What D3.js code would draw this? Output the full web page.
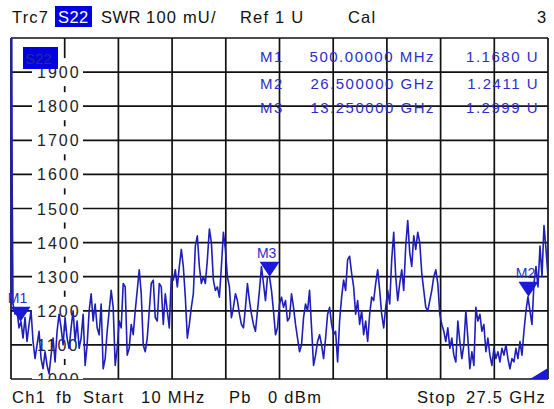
<!DOCTYPE html>
<html><head><meta charset="utf-8">
<script src="https://cdn.jsdelivr.net/npm/d3@7"></script>
<style>
body{margin:0;background:#fff;}
svg{display:block;font-family:"Liberation Sans",Arial,sans-serif;}
</style>
</head><body>
<svg id="c" width="554" height="409"></svg>
<script>
// ---- data ----
const startGHz = 0.01;
const stopGHz = 27.5;
const yTickValues = [1000, 1100, 1200, 1300, 1400, 1500, 1600, 1700, 1800, 1900];
const yTickLabels = ["1000", "1100", "1200", "1300", "1400", "1500", "1600", "1700", "1800", "1900"];
// trace SWR (mU), sweep points evenly spaced from start to stop
const swr = [
2050,1220,1190,1200,1150,1168,1120,1180,1110,1160,
1200,1110,1060,1100,1140,1060,1030,1080,1040,1015,
1070,1120,1050,1140,1190,1150,1100,1180,1120,1090,
1150,1200,1110,1170,1090,1120,1190,1040,1100,1200,
1250,1170,1220,1150,1130,1220,1030,1060,1140,1200,
1260,1210,1040,1090,1170,1150,1280,1270,1070,1090,
1160,1130,1200,1260,1320,1250,1100,1080,1120,1200,
1280,1290,1180,1170,1280,1270,1160,1250,1200,1150,
1300,1290,1320,1270,1330,1380,1330,1240,1120,1160,
1210,1250,1390,1420,1330,1280,1300,1280,1350,1440,
1400,1290,1260,1270,1240,1330,1430,1380,1300,1270,
1180,1210,1250,1230,1190,1160,1150,1210,1280,1230,
1190,1160,1140,1200,1260,1330,1280,1230,1300,1300,
1260,1200,1130,1150,1220,1240,1210,1230,1170,1180,
1250,1210,1160,1120,1080,1100,1180,1220,1200,1260,
1150,1040,1070,1110,1130,1100,1060,1120,1190,1210,
1160,1130,1140,1050,1170,1240,1290,1260,1350,1360,
1310,1270,1190,1230,1160,1200,1130,1170,1110,1190,
1240,1230,1280,1320,1260,1190,1150,1210,1260,1220,
1350,1430,1300,1230,1280,1320,1260,1390,1465,1370,
1330,1420,1380,1430,1400,1310,1260,1210,1200,1230,
1260,1300,1320,1280,1190,1160,1140,1110,1150,1090,
1120,1070,1050,1170,1110,1060,1100,1200,1120,1030,
1080,1040,1210,1170,1190,1140,1160,1080,1120,1070,
1040,1090,1060,1080,1050,1090,1070,1100,1060,1030,
1060,1050,1090,1060,1110,1070,1140,1200,1241,1200,
1160,1280,1330,1270,1390,1300,1450,1380,1300
];
const markerNames = ["M1", "M2", "M3"];
const markerFreqGHz = [0.5, 26.5, 13.25];
const markerSWR = [1168.0, 1241.1, 1299.9];
const markerFreqText = ["500.00000 MHz", "26.500000 GHz", "13.250000 GHz"];
const markerValueText = ["1.1680 U", "1.2411 U", "1.2999 U"];
const headerTexts = ["Trc7", "S22", "SWR", "100 mU/", "Ref 1 U", "Cal", "3"];
const footerTexts = ["Ch1", "fb", "Start", "10 MHz", "Pb", "0 dBm", "Stop", "27.5 GHz"];

// ---- layout ----
const L = 11, R = 548, T = 38, B = 379;
const svg = d3.select("#c");
const x = d3.scaleLinear().domain([startGHz, stopGHz]).range([L, R]);
const y = d3.scaleLinear().domain([1000, 2000]).range([B, T]);
const blue = "#1e1eb8";
const txtBlue = "#2d2dc8";

svg.append("rect").attr("width", 554).attr("height", 409).attr("fill", "#fff");

// header
const headerX = [12, 58, 101, 146, 240, 348, 537];
const headerLS = [1.2, 0.4, 0.5, 1.2, 1.2, 1.2, 0];
svg.append("rect").attr("x", 55).attr("y", 6).attr("width", 37).attr("height", 21).attr("fill", "#0000e0");
svg.selectAll("text.hdr").data(headerTexts).join("text")
  .attr("class", "hdr")
  .attr("x", (d, i) => headerX[i]).attr("y", 23)
  .attr("font-size", 16.5).attr("letter-spacing", (d, i) => headerLS[i])
  .attr("fill", (d, i) => i === 1 ? "#fff" : "#111")
  .text(d => d);

// footer
const footerX = [12, 56, 83, 141, 229, 268, 417, 466];
svg.selectAll("text.ftr").data(footerTexts).join("text")
  .attr("class", "ftr")
  .attr("x", (d, i) => footerX[i]).attr("y", 403)
  .attr("font-size", 16.5).attr("letter-spacing", 1.3)
  .attr("fill", "#111")
  .text(d => d);

// clip
svg.append("clipPath").attr("id", "clip").append("rect")
  .attr("x", L).attr("y", T).attr("width", R - L).attr("height", B - T);

const plot = svg.append("g");

// grid (vertical 10 divisions)
const vDiv = d3.range(11).map(k => startGHz + k * (stopGHz - startGHz) / 10);
plot.selectAll("line.v").data(vDiv).join("line").attr("class", "v")
  .attr("x1", d => x(d)).attr("x2", d => x(d)).attr("y1", T).attr("y2", B)
  .attr("stroke", "#111").attr("stroke-width", 1.7);
const hDiv = d3.range(1000, 2001, 100);
plot.selectAll("line.h").data(hDiv).join("line").attr("class", "h")
  .attr("x1", L).attr("x2", R).attr("y1", d => y(d)).attr("y2", d => y(d))
  .attr("stroke", "#111").attr("stroke-width", 1.7);

// y labels with white boxes
const lab = svg.append("g").attr("clip-path", "url(#clip)");
lab.selectAll("rect").data(yTickValues).join("rect")
  .attr("x", 32).attr("y", d => y(d) - 14).attr("width", 51).attr("height", 28)
  .attr("fill", "#fff");
lab.selectAll("text").data(yTickValues).join("text")
  .attr("x", 37).attr("y", d => y(d) + 6)
  .attr("font-size", 16).attr("letter-spacing", 2)
  .attr("fill", "#222")
  .text((d, i) => yTickLabels[i]);

// S22 box in plot
svg.append("rect").attr("x", 23).attr("y", 47).attr("width", 35).attr("height", 22).attr("fill", "#0000e0");
svg.append("text").attr("x", 25).attr("y", 64).attr("font-size", 15).attr("fill", "#2a2a90").text("S22");

// trace
const N = swr.length;
const freqs = swr.map((v, i) => startGHz + i * (stopGHz - startGHz) / (N - 1));
const line = d3.line().x((d, i) => x(freqs[i])).y(d => y(d));
svg.append("path").attr("clip-path", "url(#clip)")
  .attr("d", line(swr)).attr("fill", "none")
  .attr("stroke", blue).attr("stroke-width", 1.6).attr("stroke-linejoin", "round");
// off-scale start drawn along the left edge
svg.append("line").attr("x1", L + 0.5).attr("x2", L + 0.5).attr("y1", T).attr("y2", y(swr[1]))
  .attr("stroke", blue).attr("stroke-width", 2.2);

// markers
markerNames.forEach((m, i) => {
  const mx = x(markerFreqGHz[i]), my = y(markerSWR[i]);
  svg.append("path")
    .attr("d", `M${mx - 10},${my - 15} L${mx + 10},${my - 15} L${mx},${my} Z`)
    .attr("fill", "#1a1ad8");
  const lx = Math.max(mx, 18);
  svg.append("text").attr("x", lx - 3).attr("y", my - 19)
    .attr("text-anchor", "middle").attr("font-size", 14)
    .attr("fill", txtBlue).text(m);
});

// marker table
const rowY = [62, 89, 113];
markerNames.forEach((m, i) => {
  svg.append("text").attr("x", 260).attr("y", rowY[i]).attr("font-size", 15).attr("letter-spacing", 1.5)
    .attr("fill", txtBlue).text(m);
  svg.append("text").attr("x", 435).attr("y", rowY[i]).attr("font-size", 15).attr("letter-spacing", 1.5)
    .attr("text-anchor", "end").attr("fill", txtBlue).text(markerFreqText[i]);
  svg.append("text").attr("x", 539).attr("y", rowY[i]).attr("font-size", 15).attr("letter-spacing", 1.5)
    .attr("text-anchor", "end").attr("fill", txtBlue).text(markerValueText[i]);
});

// bottom-right corner indicator
svg.append("path").attr("d", `M${R - 18},${B} L${R},${B} L${R},${B - 11} Z`).attr("fill", "#1a1ad8");
</script>
</body></html>
